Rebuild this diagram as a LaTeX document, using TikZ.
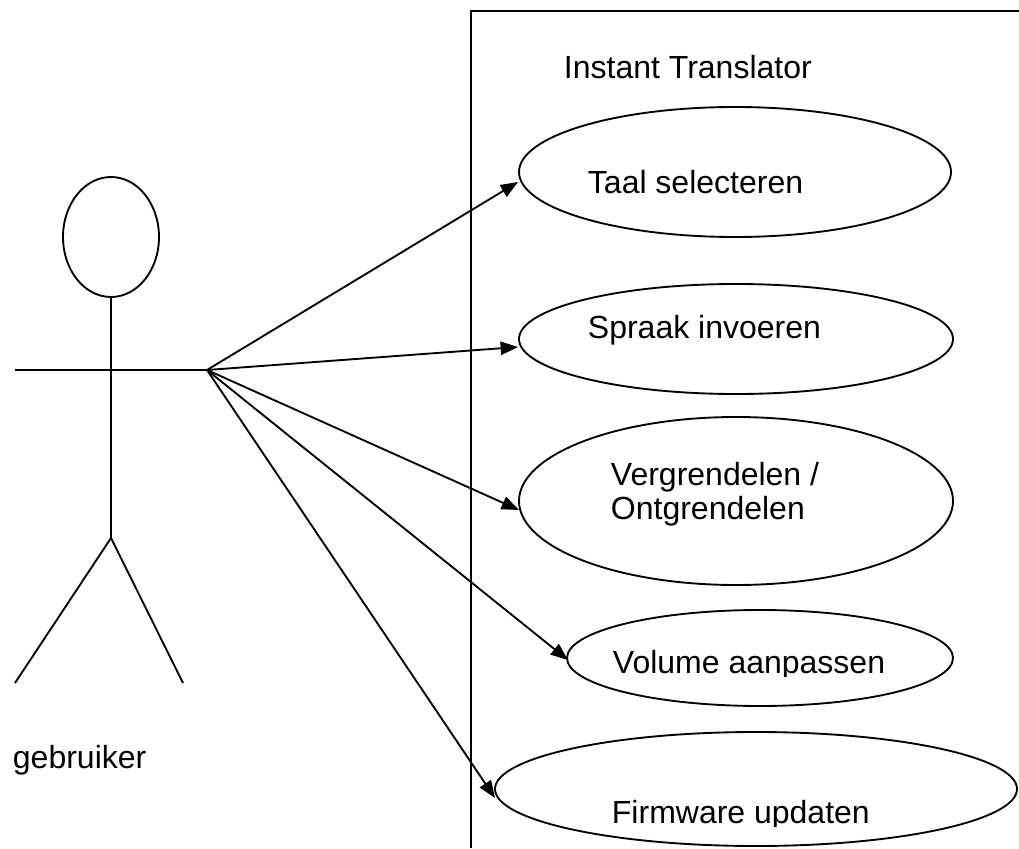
\documentclass[tikz,border=0pt]{standalone}
\usepackage{fontspec}
\setmainfont{Liberation Sans}
\usetikzlibrary{shapes.geometric,arrows.meta,calc}
\begin{document}
\begin{tikzpicture}[x=0.75pt,y=-0.75pt,line width=1.4pt,
  usecase/.style={ellipse, draw, inner sep=0pt, outer sep=0pt},
  lbl/.style={anchor=base west, inner sep=0pt, font=\fontsize{24}{29}\selectfont},
  assoc/.style={-{Triangle[length=13pt,width=10pt]}}]
\useasboundingbox (0,0) rectangle (1019,848);
% system boundary
\draw (1019,11) -- (471,11) -- (471,848);
\node[lbl] (sys) at (563,79) {Instant Translator};
% actor
\node[ellipse, draw, inner sep=0pt, outer sep=0pt, minimum width=72pt, minimum height=90pt] (head) at (111,237) {};
\coordinate (hip) at (111,538);
\coordinate (lhand) at (15,370);
\coordinate (rhand) at (207,370);
\coordinate (lfoot) at (15,683);
\coordinate (rfoot) at (183,683);
\draw (head.south) -- (hip);
\draw (lhand) -- (rhand);
\draw (lfoot) -- (hip) -- (rfoot);
\node[lbl] (actor) at (12,768) {gebruiker};
% use cases
\node[usecase, minimum width=324pt, minimum height=97.5pt] (e1) at (735,172) {};
\node[usecase, minimum width=325.5pt, minimum height=82.5pt] (e2) at (736,339) {};
\node[usecase, minimum width=325.5pt, minimum height=126pt] (e3) at (736,501) {};
\node[usecase, minimum width=289.5pt, minimum height=72pt] (e4) at (760,658) {};
\node[usecase, minimum width=391.5pt, minimum height=85.5pt] (e5) at (756,789) {};
\node[lbl] (t1) at (587,194) {Taal selecteren};
\node[lbl] (t2) at (587,338) {Spraak invoeren};
\node[lbl] (t3a) at (610,485) {Vergrendelen /};
\node[lbl] (t3b) at (610,519) {Ontgrendelen};
\begin{scope}
  \clip (590,630) rectangle (930,676);
  \node[lbl] (t4) at (612,673) {Volume aanpassen};
\end{scope}
\begin{scope}
  \clip (590,780) rectangle (930,826);
  \node[lbl] (t5) at (611,823) {Firmware updaten};
\end{scope}
% associations
\draw[assoc] (rhand) -- ($(e1.west)+(-1,10)$);
\draw[assoc] (rhand) -- ($(e2.west)+(-1,8)$);
\draw[assoc] (rhand) -- ($(e3.west)+(0,9)$);
\draw[assoc] (rhand) -- ($(e4.west)+(1,2)$);
\draw[assoc] (rhand) -- ($(e5.west)+(0,9)$);
\end{tikzpicture}
\end{document}
